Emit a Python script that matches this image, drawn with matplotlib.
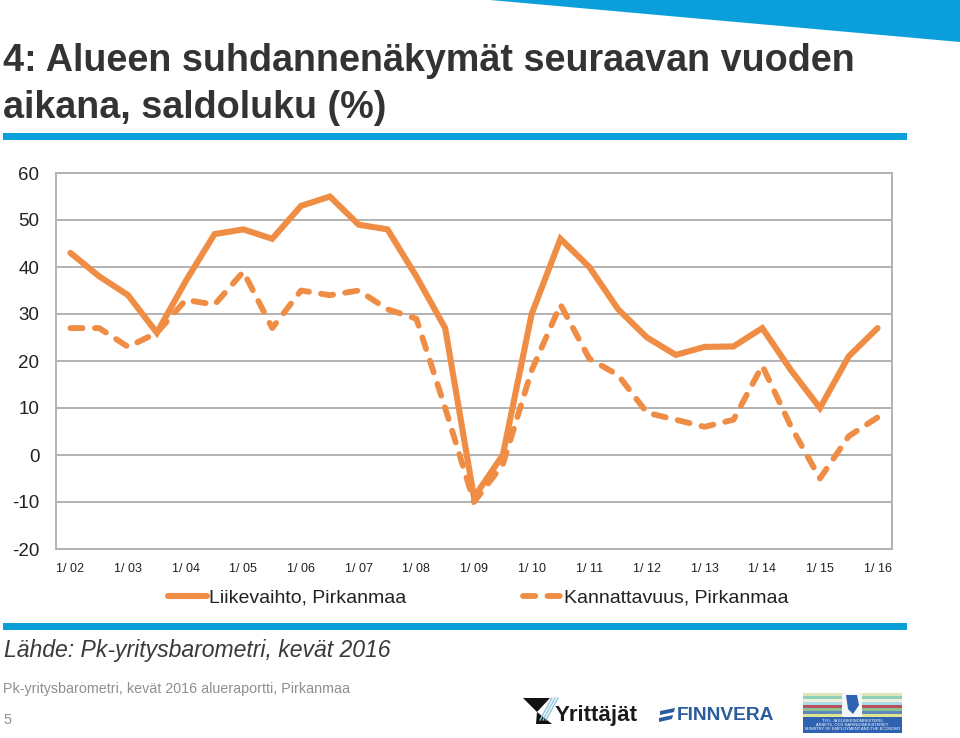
import matplotlib
matplotlib.use("Agg")
import matplotlib.pyplot as plt
from matplotlib.patches import Polygon, Rectangle

periods = ["1/ 02", "", "1/ 03", "", "1/ 04", "", "1/ 05", "", "1/ 06", "", "1/ 07", "", "1/ 08", "",
           "1/ 09", "", "1/ 10", "", "1/ 11", "", "1/ 12", "", "1/ 13", "", "1/ 14", "", "1/ 15", "", "1/ 16"]
liikevaihto = [43, 38, 34, 26, 37, 47, 48, 46, 53, 55, 49, 48, 38, 27, -9, 0, 30, 46, 40, 31,
               25, 21.3, 23, 23.1, 27, 18, 10, 21, 27]
kannattavuus = [27, 27, 23, 26, 33, 32, 39, 27, 35, 34, 35, 31, 29, 10, -10, -2, 18, 32, 20.5, 17,
                9, 7.5, 6, 7.5, 19, 6, -5, 4, 8]
yticks = [-20, -10, 0, 10, 20, 30, 40, 50, 60]
series_names = ["Liikevaihto, Pirkanmaa", "Kannattavuus, Pirkanmaa"]

W, H = 960, 738
plt.rcParams["font.family"] = ["Liberation Sans", "DejaVu Sans"]
plt.rcParams["axes.unicode_minus"] = False
fig = plt.figure(figsize=(W / 100, H / 100), dpi=100)

# Page furniture in pixel coordinates
bg = fig.add_axes([0, 0, 1, 1])
bg.set_xlim(0, W)
bg.set_ylim(H, 0)
bg.axis("off")
BLUE = "#0A9FDA"
bg.add_patch(Polygon([(490, 0), (960, 42), (960, 0)], closed=True, fc=BLUE, ec="none"))
bg.add_patch(Rectangle((3, 133), 904, 7, fc=BLUE, ec="none"))
bg.add_patch(Rectangle((3, 623), 904, 7, fc=BLUE, ec="none"))

bg.text(3, 61, "4: Alueen suhdannenäkymät seuraavan vuoden", fontsize=27.2, weight="bold",
        color="#333333", va="center", ha="left")
bg.text(3, 108, "aikana, saldoluku (%)", fontsize=27.2, weight="bold",
        color="#333333", va="center", ha="left")
bg.text(4, 650, "Lähde: Pk-yritysbarometri, kevät 2016", fontsize=16.6, style="italic",
        color="#3a3a3a", va="center", ha="left")
bg.text(3, 689, "Pk-yritysbarometri, kevät 2016 alueraportti, Pirkanmaa", fontsize=10.3,
        color="#8f8f8f", va="center", ha="left")
bg.text(3, 720, "5", fontsize=10.3, color="#8f8f8f", va="center", ha="left")

# Logos (approximate)
bg.add_patch(Polygon([(523, 698), (550, 698), (537, 712)], closed=True, fc="#111111", ec="none"))
bg.add_patch(Polygon([(536, 724), (552, 724), (537, 712)], closed=True, fc="#111111", ec="none"))
for dx in (0, 3, 6):
    bg.plot([552 + dx, 540 + dx], [698, 720], color="#8FC4DE", lw=1.0)
bg.text(555, 715, "Yrittäjät", fontsize=16, weight="bold", color="#1a1a1a", va="center", ha="left")
bg.add_patch(Polygon([(660, 711), (675, 708), (674, 712), (660, 715)], closed=True, fc="#2B5C9E", ec="none"))
bg.add_patch(Polygon([(659, 718), (673, 715), (672, 719), (659, 722)], closed=True, fc="#2B5C9E", ec="none"))
bg.text(677, 715, "FINNVERA", fontsize=13.8, weight="bold", color="#2B5C9E", va="center", ha="left")
stripe_colors = ["#DDE6B8", "#8FD0B8", "#EEEEDD", "#A9DCE6", "#B85060", "#8CC090", "#5F88C0", "#E0E690"]
for i, c in enumerate(stripe_colors):
    bg.add_patch(Rectangle((803, 693 + i * 3.0), 99, 3.0, fc=c, ec="none"))
bg.add_patch(Rectangle((803, 717), 99, 16, fc="#2F62B0", ec="none"))
bg.add_patch(Rectangle((842, 693), 20, 24, fc="#F4F6FA", ec="none"))
bg.add_patch(Polygon([(846, 695), (857, 695), (859, 705), (853, 714), (848, 709)], closed=True,
                     fc="#2F62B0", ec="none"))
bg.text(852.5, 725, "TYÖ- JA ELINKEINOMINISTERIÖ\nARBETS- OCH NÄRINGSMINISTERIET\nMINISTRY OF EMPLOYMENT AND THE ECONOMY",
        fontsize=2.9, color="white", ha="center", va="center", linespacing=1.1)

# Chart
ax = fig.add_axes([56 / W, 1 - 549 / H, (892 - 56) / W, (549 - 173) / H])
x = range(len(periods))
ORANGE = "#EF8D45"
GRID = "#B2B2B2"
l1, = ax.plot(x, liikevaihto, color=ORANGE, lw=4.4, solid_capstyle="round",
              solid_joinstyle="miter", label=series_names[0], zorder=3)
l2, = ax.plot(x, kannattavuus, color=ORANGE, lw=4.2, linestyle=(0, (2.1, 2.1)),
              dash_capstyle="round", dash_joinstyle="round", label=series_names[1], zorder=3)
ax.set_xlim(-0.5, len(periods) - 0.5)
ax.set_ylim(-20, 60)
ax.set_yticks(yticks)
ax.set_xticks([i for i, p in enumerate(periods) if p])
ax.set_xticklabels([p for p in periods if p], fontsize=9, color="#222222")
ax.tick_params(axis="both", length=0)
ax.tick_params(axis="y", labelsize=13.5, labelcolor="#222222", pad=12)
ax.tick_params(axis="x", pad=10)
ax.grid(axis="y", color=GRID, lw=1.4)
ax.set_axisbelow(True)
for s in ax.spines.values():
    s.set_color(GRID)
    s.set_linewidth(1.4)

fig.legend(handles=[l1, l2], loc="center left", bbox_to_anchor=(168 / W, 1 - 598 / H), ncol=2,
           frameon=False, fontsize=14, handlelength=2.0, handletextpad=0.1, columnspacing=6.0,
           borderpad=0, borderaxespad=0, labelcolor="#222222")

fig.savefig("out.png", dpi=100)
